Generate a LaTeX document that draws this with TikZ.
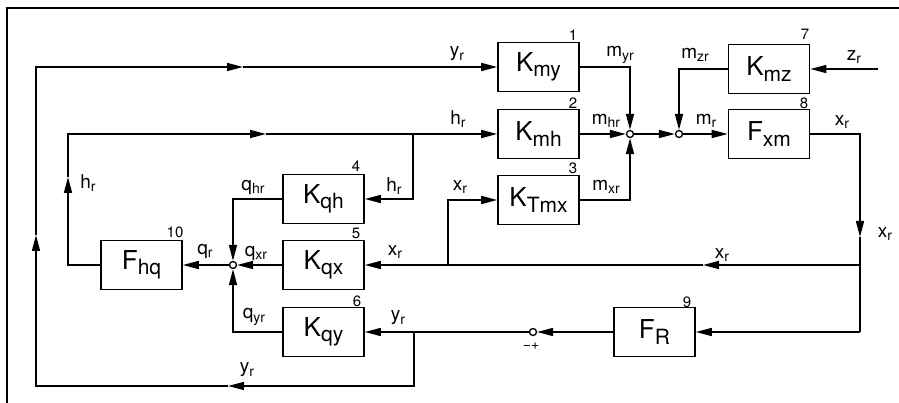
\documentclass[tikz,border=0pt]{standalone}
\usepackage{fontspec}
\setmainfont{TeX Gyre Heros}
\usetikzlibrary{arrows.meta}
\newcommand{\blk}[2]{{\fontsize{26}{26}\selectfont #1}\raisebox{-5.5pt}{\fontsize{21}{21}\selectfont #2}}
\newcommand{\sig}[2]{{\fontsize{19}{19}\selectfont #1}\raisebox{-3.5pt}{\fontsize{14}{14}\selectfont #2}}
\begin{document}
\begin{tikzpicture}[x=1pt,y=-1pt,line width=1.6pt,
  blockbox/.style={draw,minimum width=81pt,minimum height=49pt,inner sep=0pt},
  junc/.style={circle,draw,fill=white,minimum size=7pt,inner sep=0pt,line width=1.3pt},
  arr/.style={-{Stealth[length=16pt,width=8pt,inset=0pt]}},
  lbl/.style={inner sep=0pt},
  num/.style={inner sep=0pt,font=\fontsize{15}{15}\selectfont}]
\useasboundingbox (0,0) rectangle (899,403);
% frame
\draw[line width=1.3pt] (899,8) -- (7,8) -- (7,403);
% blocks
\node[blockbox] (Kmy) at (538.5,67) {\blk{K}{my}};
\node[blockbox] (Kmh) at (538.5,134) {\blk{K}{mh}};
\node[blockbox] (KTmx) at (538.5,200) {\blk{K}{Tmx}};
\node[blockbox] (Kmz) at (769,69) {\blk{K}{mz}};
\node[blockbox] (Fxm) at (769,134) {\blk{F}{xm}};
\node[blockbox] (Kqh) at (323.5,199) {\blk{K}{qh}};
\node[blockbox] (Kqx) at (323.5,265) {\blk{K}{qx}};
\node[blockbox] (Kqy) at (323.5,332) {\blk{K}{qy}};
\node[blockbox] (Fhq) at (141.5,265) {\blk{F}{hq}};
\node[blockbox] (FR) at (654.5,332) {\blk{F}{R}};
% numbers
\node[num] (n1) at (573,35) {1};
\node[num] (n2) at (573,103) {2};
\node[num] (n3) at (573,168) {3};
\node[num] (n7) at (805,34) {7};
\node[num] (n8) at (804,103) {8};
\node[num] (n4) at (356,166) {4};
\node[num] (n5) at (356,233) {5};
\node[num] (n6) at (357,301) {6};
\node[num] (n10) at (175,232) {10};
\node[num] (n9) at (687,302) {9};
% junctions
\node[junc] (j1) at (630,134) {};
\node[junc] (j2) at (679,134) {};
\node[junc] (j3) at (233,265) {};
\node[junc] (j4) at (533,332) {};
% coordinates
\coordinate (zin) at (878,69);
\coordinate (xc) at (860,134);
\coordinate (xa) at (860,237);
\coordinate (xs) at (860,265);
\coordinate (xbot) at (860,332);
\coordinate (xm) at (703,265);
\coordinate (xb) at (448,265);
\coordinate (ys) at (414,332);
\coordinate (ybr) at (414,386);
\coordinate (yma) at (228,386);
\coordinate (ybl) at (36,386);
\coordinate (yla) at (36,235);
\coordinate (ytl) at (36,67);
\coordinate (yta) at (243,67);
\coordinate (hbl) at (68,265);
\coordinate (hla) at (68,177);
\coordinate (htl) at (68,134);
\coordinate (hta) at (266,134);
\coordinate (hb) at (413,134);
% connectors: mixing
\draw[arr] (Kmy.east) -| (j1.north);
\draw[arr] (Kmh.east) -- (j1.west);
\draw[arr] (KTmx.east) -| (j1.south);
\draw[arr] (j1.east) -- (j2.west);
\draw[arr] (Kmz.west) -| (j2.north);
\draw[arr] (j2.east) -- (Fxm.west);
\draw[arr] (zin) -- (Kmz.east);
% x_r paths
\draw[arr] (Fxm.east) -- (xc) -- (xa);
\draw (xa) -- (xs) -- (xbot);
\draw[arr] (xbot) -- (FR.east);
\draw[arr] (xs) -- (xm);
\draw[arr] (xm) -- (Kqx.east);
\draw[arr] (xb) |- (KTmx.west);
% F_R and y_r
\draw[arr] (FR.west) -- (j4.east);
\draw[arr] (j4.west) -- (Kqy.east);
\draw[arr] (ys) -- (ybr) -- (yma);
\draw[arr] (yma) -- (ybl) -- (yla);
\draw[arr] (yla) -- (ytl) -- (yta);
\draw[arr] (yta) -- (Kmy.west);
% h_r paths
\draw[arr] (Fhq.west) -- (hbl) -- (hla);
\draw[arr] (hla) -- (htl) -- (hta);
\draw[arr] (hta) -- (Kmh.west);
\draw[arr] (hb) |- (Kqh.east);
% q paths
\draw[arr] (Kqh.west) -| (j3.north);
\draw[arr] (Kqx.west) -- (j3.east);
\draw[arr] (Kqy.west) -| (j3.south);
\draw[arr] (j3.west) -- (Fhq.east);
% labels
\node[lbl] (l1) at (457,54) {\sig{y}{r}};
\node[lbl] (l2) at (458,119) {\sig{h}{r}};
\node[lbl] (l3) at (460,187) {\sig{x}{r}};
\node[lbl] (l4) at (394,186) {\sig{h}{r}};
\node[lbl] (l5) at (253,187) {\sig{q}{hr}};
\node[lbl] (l6) at (395,252) {\sig{x}{r}};
\node[lbl] (l7) at (256,253) {\sig{q}{xr}};
\node[lbl] (l8) at (205,251) {\sig{q}{r}};
\node[lbl] (l9) at (254,317) {\sig{q}{yr}};
\node[lbl] (l10) at (398,318) {\sig{y}{r}};
\node[lbl] (l11) at (247,370) {\sig{y}{r}};
\node[lbl] (l12) at (88,183) {\sig{h}{r}};
\node[lbl] (l13) at (620,55) {\sig{m}{yr}};
\node[lbl] (l14) at (606,121) {\sig{m}{hr}};
\node[lbl] (l15) at (606,187) {\sig{m}{xr}};
\node[lbl] (l16) at (695,55) {\sig{m}{zr}};
\node[lbl] (l17) at (706,121) {\sig{m}{r}};
\node[lbl] (l18) at (854,57) {\sig{z}{r}};
\node[lbl] (l19) at (842,122) {\sig{x}{r}};
\node[lbl] (l20) at (885,234) {\sig{x}{r}};
\node[lbl] (l21) at (722,255) {\sig{x}{r}};
\node[lbl] (l22) at (531,346) {\fontsize{14}{14}\selectfont −+};
\end{tikzpicture}
\end{document}
